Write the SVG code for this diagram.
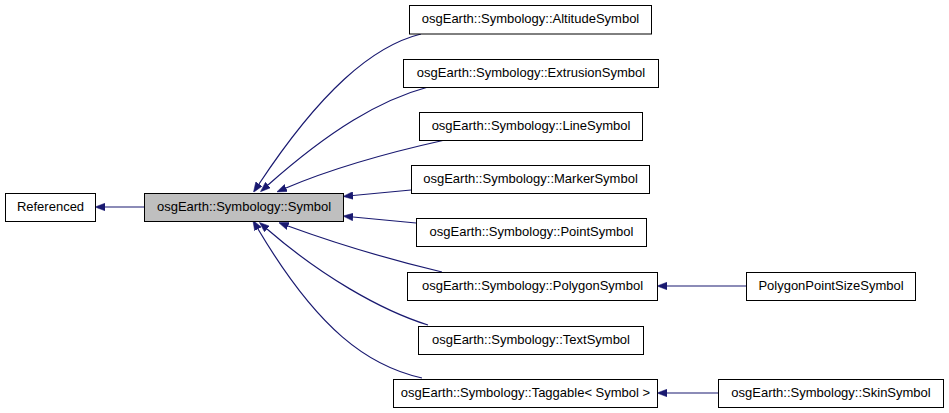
<svg xmlns="http://www.w3.org/2000/svg" width="949" height="413" viewBox="0 0 949 413">
<style>
.node rect{fill:#ffffff;stroke:#000000;stroke-width:1}
.node.cur rect{fill:#bfbfbf}
.node text{font-family:"Liberation Sans",Arial,Helvetica,sans-serif;font-size:13px;fill:#000000;text-anchor:middle}
.edges path{fill:none;stroke:#191970;stroke-width:1.2}
</style>
<defs>
<marker id="ah" viewBox="0 -4 10 8" refX="0" refY="0" markerWidth="10" markerHeight="8" markerUnits="userSpaceOnUse" orient="auto">
<path d="M0,-3.8 L10,0 L0,3.8 z" fill="#191970" stroke="#191970" stroke-width="0.5"/>
</marker>
</defs>
<rect width="949" height="413" fill="#ffffff"/>
<g class="edges">
<path d="M144,207 L105,207" marker-end="url(#ah)"/>
<path d="M421,34 C372,46 320,92 259,184" marker-end="url(#ah)"/>
<path d="M428,87 C380,100 330,130 268,185" marker-end="url(#ah)"/>
<path d="M445,140 C400,150 340,165 286,188" marker-end="url(#ah)"/>
<path d="M411,190 L353,195.5" marker-end="url(#ah)"/>
<path d="M416,223 L353,217" marker-end="url(#ah)"/>
<path d="M442,272 C400,262 340,245 288,226" marker-end="url(#ah)"/>
<path d="M428,325 C380,310 320,275 267,229" marker-end="url(#ah)"/>
<path d="M422,378 C368,366 318,330 258,229" marker-end="url(#ah)"/>
<path d="M746,286 L667,286" marker-end="url(#ah)"/>
<path d="M718,393 L667,393" marker-end="url(#ah)"/>
</g>
<g id="referenced" class="node"><rect x="5.5" y="193.5" width="90" height="28"/><text x="50.5" y="210.5">Referenced</text></g>
<g id="symbol" class="node cur"><rect x="144.5" y="193.5" width="199" height="28"/><text x="244" y="210.5">osgEarth::Symbology::Symbol</text></g>
<g id="altitude" class="node"><rect x="409.5" y="5.5" width="242" height="28.5"/><text x="530.5" y="23">osgEarth::Symbology::AltitudeSymbol</text></g>
<g id="extrusion" class="node"><rect x="403.5" y="59.5" width="255" height="28"/><text x="531" y="76.5">osgEarth::Symbology::ExtrusionSymbol</text></g>
<g id="line" class="node"><rect x="419.5" y="112.5" width="223" height="28"/><text x="531" y="129.5">osgEarth::Symbology::LineSymbol</text></g>
<g id="marker" class="node"><rect x="411.5" y="165.5" width="238" height="28"/><text x="530.5" y="182.5">osgEarth::Symbology::MarkerSymbol</text></g>
<g id="point" class="node"><rect x="416.5" y="218.5" width="230" height="28"/><text x="531.5" y="235.5">osgEarth::Symbology::PointSymbol</text></g>
<g id="polygon" class="node"><rect x="407.5" y="272.5" width="250" height="28"/><text x="532.5" y="289.5">osgEarth::Symbology::PolygonSymbol</text></g>
<g id="text" class="node"><rect x="418.5" y="326.5" width="225" height="28"/><text x="531" y="343.5">osgEarth::Symbology::TextSymbol</text></g>
<g id="taggable" class="node"><rect x="393.5" y="379.5" width="264" height="28"/><text x="525.5" y="396.5">osgEarth::Symbology::Taggable&lt; Symbol &gt;</text></g>
<g id="polygonpointsize" class="node"><rect x="746.5" y="272.5" width="169" height="28"/><text x="831" y="289.5">PolygonPointSizeSymbol</text></g>
<g id="skin" class="node"><rect x="718.5" y="379.5" width="225" height="28"/><text x="831" y="396.5">osgEarth::Symbology::SkinSymbol</text></g>
</svg>
